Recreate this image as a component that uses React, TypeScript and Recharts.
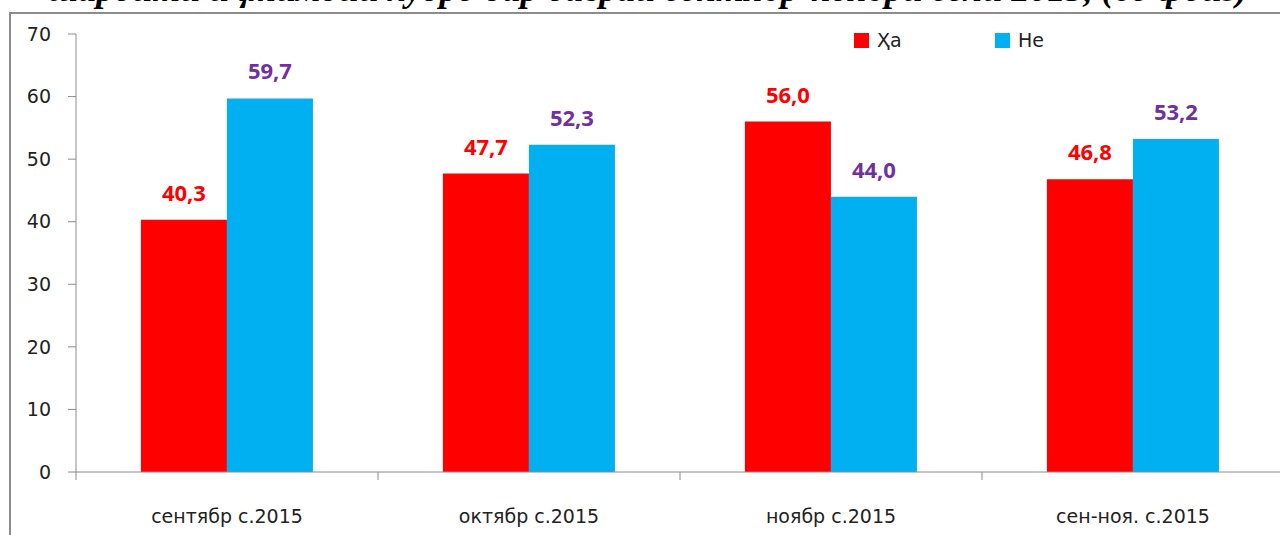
import { Bar, BarChart, LabelList, Legend, XAxis, YAxis } from "recharts";

const CATEGORIES = ["сентябр с.2015", "октябр с.2015", "ноябр с.2015", "сен-ноя. с.2015"];
const YES = [40.3, 47.7, 56.0, 46.8];
const NO = [59.7, 52.3, 44.0, 53.2];
const Y_TICKS = [0, 10, 20, 30, 40, 50, 60, 70];

const SERIES = [
  { key: "yes", name: "Ҳа", color: "#ff0000", labelColor: "#ff0000" },
  { key: "no", name: "Не", color: "#00b0f0", labelColor: "#7030a0" },
];

const TITLE = "шароити иҷтимоии худро дар давраи сентябр-ноябри соли 2015, (бо фоиз)";

const data = CATEGORIES.map((category, i) => ({ category, yes: YES[i], no: NO[i] }));

const FONT = "'DejaVu Sans', 'Open Sans', sans-serif";
const LABEL_FONT = "'Open Sans', 'Noto Sans', sans-serif";
const AXIS = "#8c8c8c";

const fmt = (v: any) => Number(v).toFixed(1).replace(".", ",");

// Excel style: tick marks between categories, label in the middle
function CategoryTick(props: any) {
  const { x, y, payload, index, visibleTicksCount } = props;
  const half = payload?.offset || 151;
  const last = index === visibleTicksCount - 1;
  return (
    <g>
      <line x1={x - half} x2={x - half} y1={y - 8} y2={y} stroke={AXIS} />
      {last && <line x1={x + half} x2={x + half} y1={y - 8} y2={y} stroke={AXIS} />}
      <text x={x} y={y + 43} textAnchor="middle" fill="#222" fontSize={19} fontFamily={FONT}>
        {payload.value}
      </text>
    </g>
  );
}

function LegendBox() {
  return (
    <div style={{ display: "flex", fontFamily: FONT, fontSize: 19, color: "#222" }}>
      {SERIES.map((s) => (
        <div key={s.key} style={{ display: "flex", alignItems: "center", width: 141 }}>
          <span style={{ width: 15, height: 15, background: s.color, marginRight: 8 }} />
          <span>{s.name}</span>
        </div>
      ))}
    </div>
  );
}

export default function App() {
  return (
    <div
      style={{
        position: "fixed",
        left: 0,
        top: 0,
        width: 1280,
        height: 535,
        overflow: "hidden",
        background: "#fff",
      }}
    >
      {/* the title sits mostly above the picture, only its lower edge shows */}
      <div
        style={{
          position: "absolute",
          top: -29,
          left: 0,
          width: 1296,
          textAlign: "center",
          fontFamily: "'Liberation Serif', serif",
          fontStyle: "italic",
          fontWeight: "bold",
          fontSize: 36,
          lineHeight: "36px",
          whiteSpace: "nowrap",
          color: "#000",
        }}
      >
        {TITLE}
      </div>
      <div
        style={{
          position: "absolute",
          left: 9,
          top: 12,
          width: 1400,
          height: 600,
          border: `2px solid ${AXIS}`,
        }}
      />
      <div style={{ position: "absolute", left: 0, top: 0 }}>
        <BarChart
          width={1290}
          height={535}
          data={data}
          margin={{ top: 34, right: 6, bottom: 3, left: 0 }}
          barCategoryGap="21.5%"
          barGap={0}
        >
          <XAxis
            dataKey="category"
            height={60}
            stroke={AXIS}
            tickLine={false}
            tickSize={8}
            tickMargin={0}
            tick={<CategoryTick />}
            interval={0}
          />
          <YAxis
            width={76}
            domain={[0, 70]}
            ticks={Y_TICKS}
            interval={0}
            stroke={AXIS}
            tickSize={8}
            tickMargin={17}
            tick={{ fill: "#222", fontSize: 19, fontFamily: FONT }}
          />
          <Legend
            layout="horizontal"
            verticalAlign="middle"
            align="center"
            content={() => <LegendBox />}
            wrapperStyle={{ position: "absolute", left: 854, top: 29, width: 300, height: 28 }}
          />
          {SERIES.map((s) => (
            <Bar key={s.key} dataKey={s.key} name={s.name} fill={s.color} isAnimationActive={false}>
              <LabelList
                dataKey={s.key}
                position="top"
                offset={19}
                formatter={fmt}
                fill={s.labelColor}
                fontSize={22}
                fontWeight="bold"
                fontFamily={LABEL_FONT}
              />
            </Bar>
          ))}
        </BarChart>
      </div>
    </div>
  );
}
